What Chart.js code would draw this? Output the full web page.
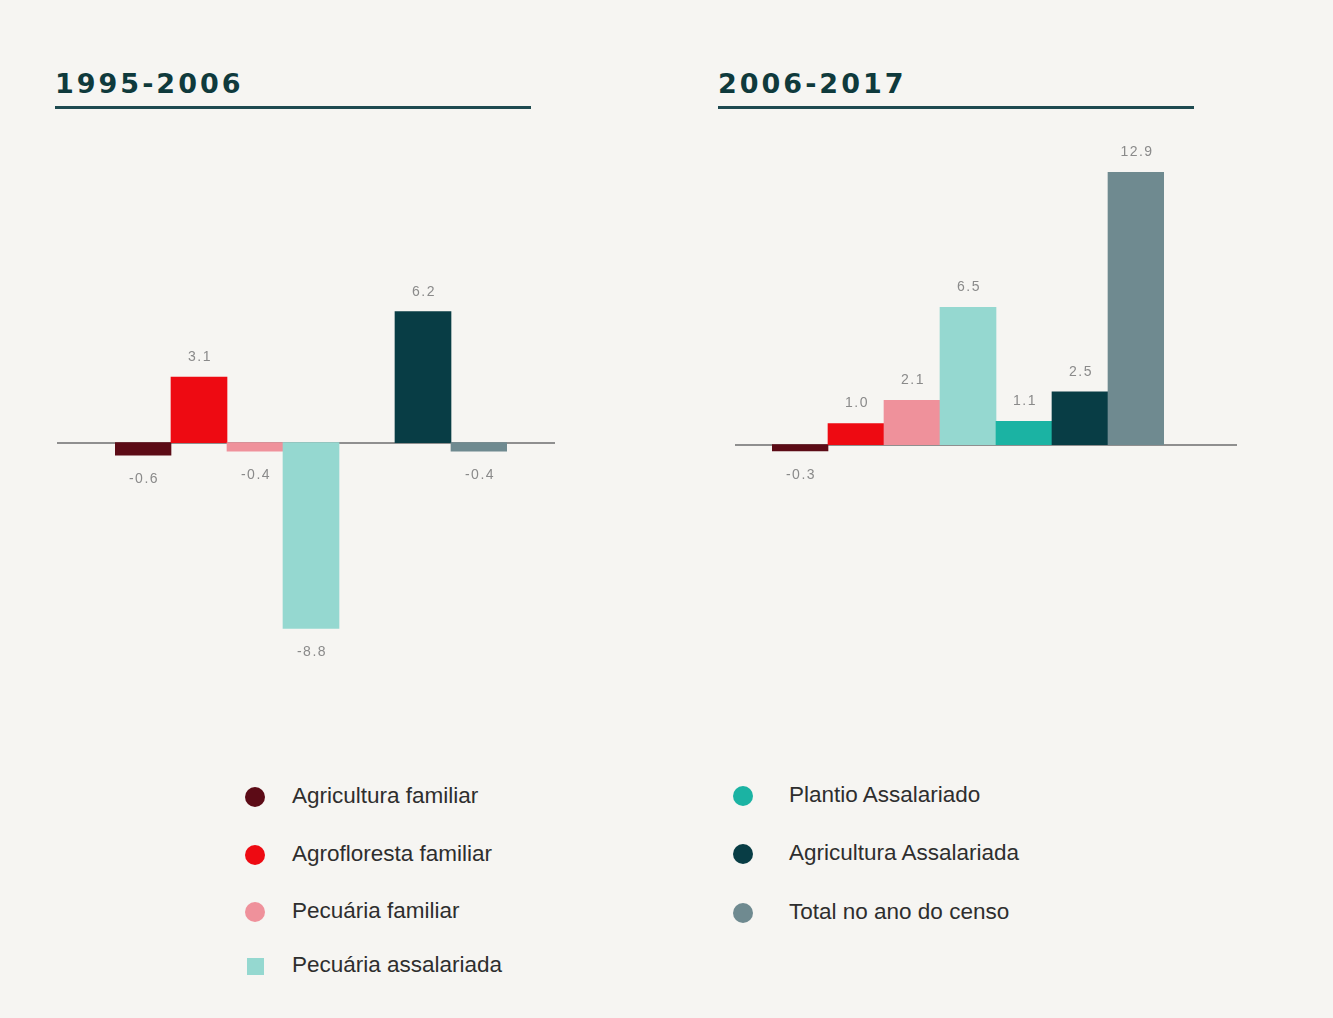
<!DOCTYPE html>
<html>
<head>
<meta charset="utf-8">
<script src="https://cdn.jsdelivr.net/npm/chart.js@4.4.0/dist/chart.umd.min.js"></script>
<style>
  html, body { margin: 0; padding: 0; }
  body { width: 1333px; height: 1018px; background: #f6f5f2; position: relative; overflow: hidden; font-family: "Liberation Sans", Arial, sans-serif; }
  .title { position: absolute; top: 68px; font-family: "DejaVu Sans", sans-serif; font-weight: bold; font-size: 27px; letter-spacing: 3px; color: #0f3a3c; }
  .rule { position: absolute; top: 106px; height: 3px; background: #1e4a50; }
  .chartbox { position: absolute; }
  .legend { position: absolute; }
  .legend .item { position: absolute; left: 0; white-space: nowrap; font-size: 22.5px; color: #2e2e2e; }
  .legend .mark { position: absolute; width: 20px; height: 20px; border-radius: 50%; top: 4px; }
</style>
</head>
<body>
<div class="title" style="left:55px">1995-2006</div>
<div class="rule" style="left:55px; width:476px"></div>
<div class="title" style="left:718px">2006-2017</div>
<div class="rule" style="left:718px; width:476px"></div>

<div class="chartbox" style="left:57px; top:117px"><canvas id="chart_a" width="498" height="579"></canvas></div>
<div class="chartbox" style="left:735px; top:119px"><canvas id="chart_b" width="502" height="579"></canvas></div>

<div class="legend" id="legend_left" style="left:245px; top:783px"></div>
<div class="legend" id="legend_right" style="left:733px; top:782px"></div>

<script>
const categories = [
  'Agricultura familiar',
  'Agrofloresta familiar',
  'Pecuária familiar',
  'Pecuária assalariada',
  'Plantio Assalariado',
  'Agricultura Assalariada',
  'Total no ano do censo'
]
const colors = ['#5c0b16', '#ee0a12', '#ef919b', '#95d8d0', '#1bb3a3', '#083d45', '#6f8a90']
const values_1995_2006 = [-0.6, 3.1, -0.4, -8.8, null, 6.2, -0.4]
const values_2006_2017 = [-0.3, 1.0, 2.1, 6.5, 1.1, 2.5, 12.9]
const y_min = -12
const y_max = 14

// zero line runs past the bars on both sides, like in the print version
const baselinePlugin = {
  id: 'baseline',
  beforeDatasetsDraw(chart) {
    const ctx = chart.ctx
    const y = Math.round(chart.scales.y.getPixelForValue(0))
    ctx.save()
    ctx.strokeStyle = '#8f8f8f'
    ctx.lineWidth = 2
    ctx.beginPath()
    ctx.moveTo(0, y)
    ctx.lineTo(chart.width, y)
    ctx.stroke()
    ctx.restore()
  }
}

const valueLabelPlugin = {
  id: 'valueLabels',
  afterDatasetsDraw(chart) {
    const ctx = chart.ctx
    const data = chart.data.datasets[0].data
    const meta = chart.getDatasetMeta(0)
    ctx.save()
    ctx.font = '14px "Liberation Sans", Arial, sans-serif'
    ctx.letterSpacing = '1.5px'
    ctx.fillStyle = '#8a8a8a'
    ctx.textAlign = 'center'
    ctx.textBaseline = 'middle'
    meta.data.forEach((bar, i) => {
      const v = data[i]
      if (v === null) return
      const y = v >= 0 ? bar.y - 20 : bar.y + 24
      ctx.fillText(v.toFixed(1), bar.x + 1, y)
    })
    ctx.restore()
  }
}

function makeChart(canvas_id, values, pad_left, pad_right) {
  const ctx = document.getElementById(canvas_id).getContext('2d')
  return new Chart(ctx, {
    type: 'bar',
    data: {
      labels: categories,
      datasets: [{
        data: values,
        backgroundColor: colors,
        borderWidth: 0,
        barPercentage: 1,
        categoryPercentage: 1
      }]
    },
    options: {
      responsive: false,
      animation: false,
      layout: { padding: { left: pad_left, right: pad_right, top: 30, bottom: 0 } },
      plugins: {
        legend: { display: false },
        tooltip: { enabled: false }
      },
      scales: {
        x: { display: false, grid: { display: false } },
        y: { display: false, min: y_min, max: y_max, grid: { display: false } }
      }
    },
    plugins: [baselinePlugin, valueLabelPlugin]
  })
}

makeChart('chart_a', values_1995_2006, 58, 48)
makeChart('chart_b', values_2006_2017, 37, 73)

function buildLegend(el_id, indices, row_tops, text_left) {
  const el = document.getElementById(el_id)
  indices.forEach((idx, n) => {
    const item = document.createElement('div')
    item.className = 'item'
    item.style.top = row_tops[n] + 'px'
    const mark = document.createElement('span')
    mark.className = 'mark'
    mark.style.background = colors[idx]
    if (idx === 3) {
      mark.style.borderRadius = '0'
      mark.style.width = '17px'
      mark.style.height = '17px'
      mark.style.left = '2px'
      mark.style.top = '6px'
    }
    const label = document.createElement('span')
    label.textContent = categories[idx]
    label.style.position = 'absolute'
    label.style.left = text_left + 'px'
    item.appendChild(mark)
    item.appendChild(label)
    el.appendChild(item)
  })
}

buildLegend('legend_left', [0, 1, 2, 3], [0, 58, 115, 169], 47)
buildLegend('legend_right', [4, 5, 6], [0, 58, 117], 56)
</script>
</body>
</html>
